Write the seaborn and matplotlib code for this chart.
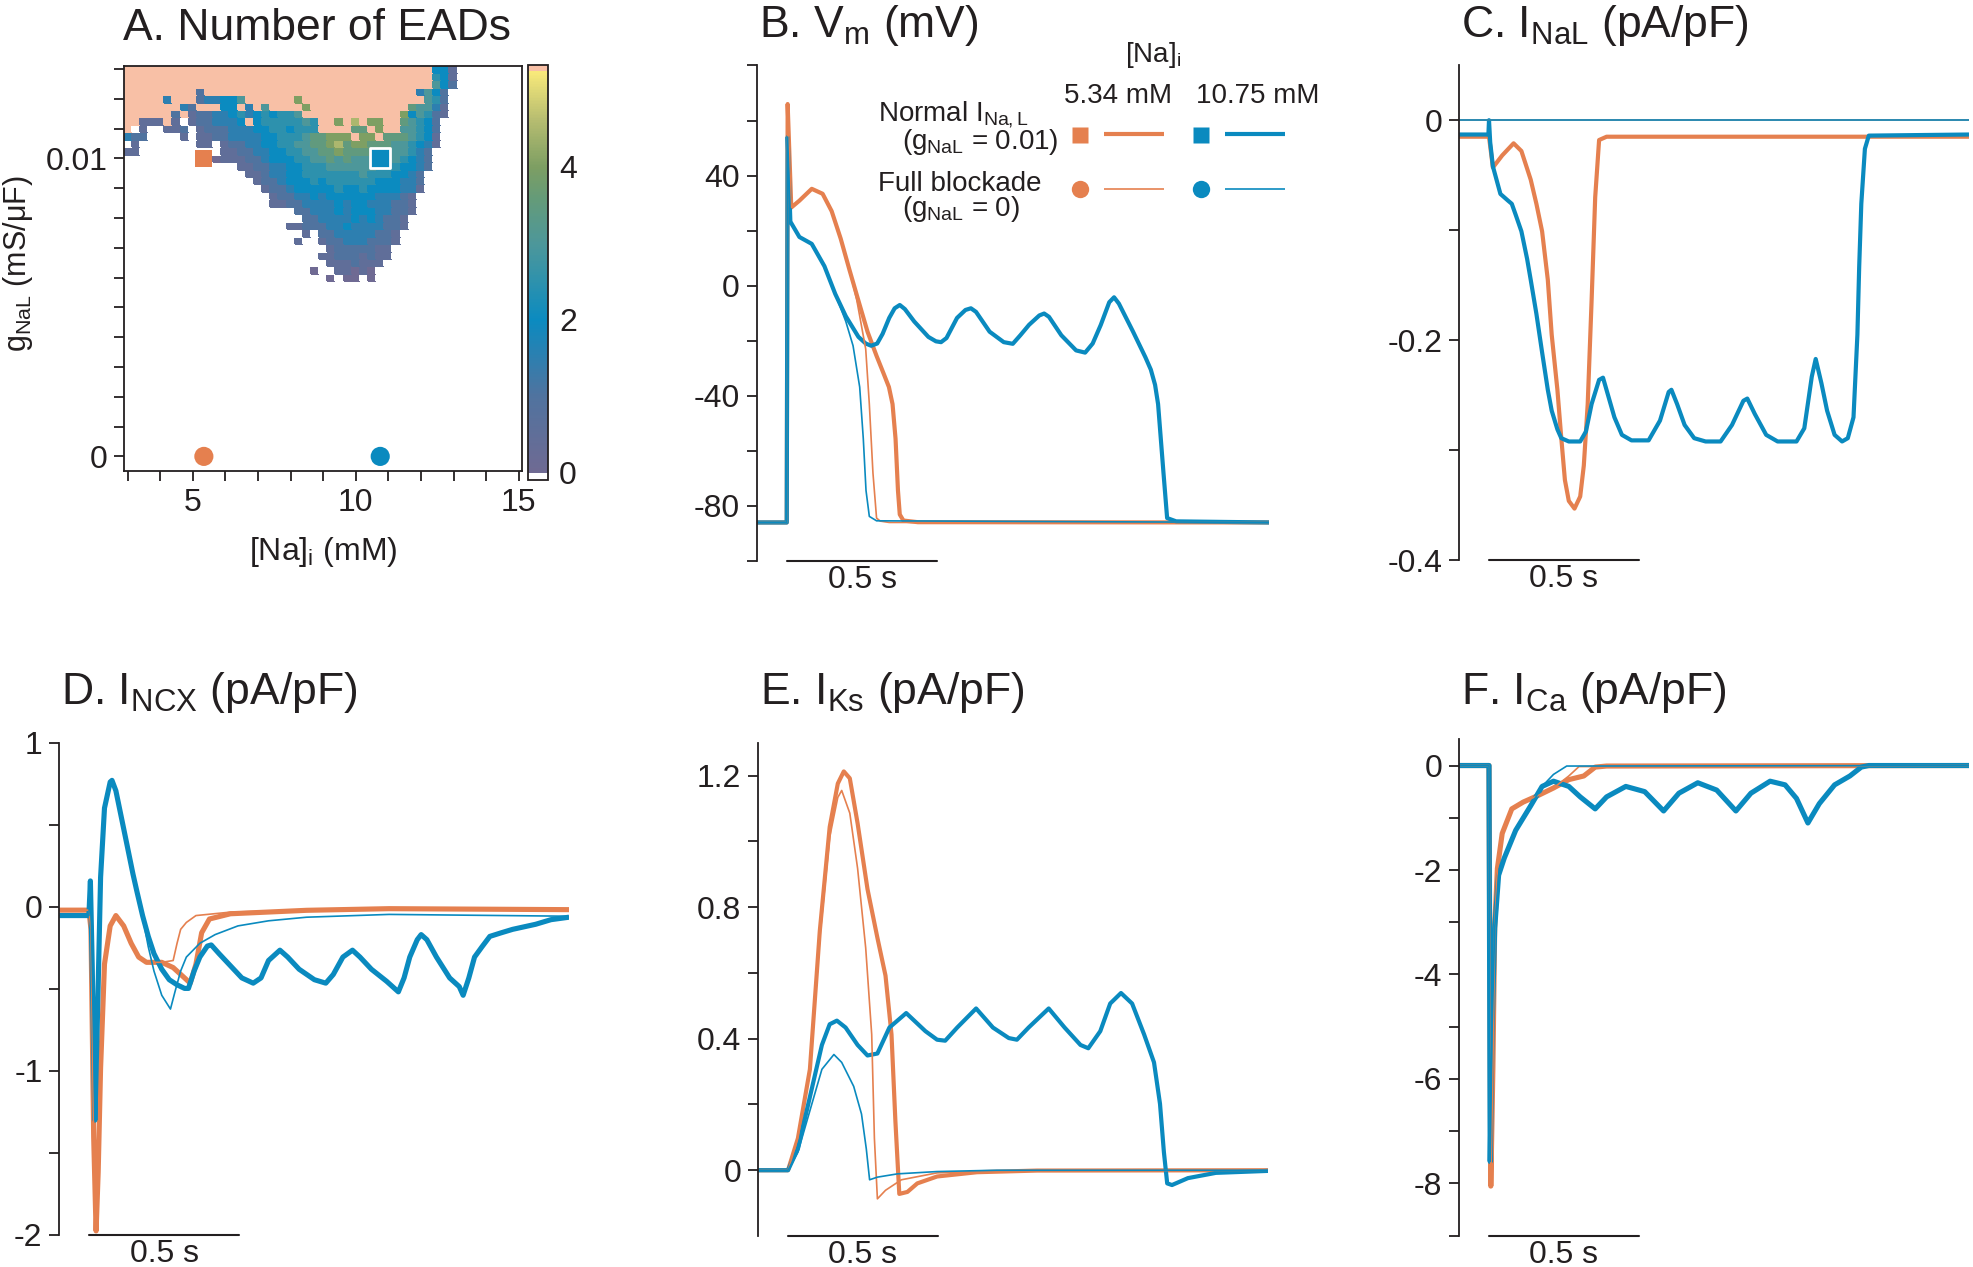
import numpy as np
import matplotlib
matplotlib.use('Agg')
import matplotlib.pyplot as plt
import seaborn as sns
from matplotlib.colors import LinearSegmentedColormap

# ---------------- colours ----------------
ORANGE = '#e5804f'   # [Na]i = 5.34 mM
BLUE = '#0a8abf'     # [Na]i = 10.75 mM
SALMON = '#f8c0a6'   # no repolarisation
INK = '#231f20'

# ---------------- panel A: number of EADs ----------------
NA_GRID = np.arange(3.0, 15.001, 0.25)         # [Na]i (mM), 49 columns
GNAL_GRID = np.arange(0.0, 0.013001, 0.00025)  # gNaL (mS/uF), 53 rows
# rows from gNaL = 0.013 downwards: (first column, codes)
# r = failed repolarisation, . = none, digit d = d/2 EADs
EAD_ROWS = [
    (0, 'r' * 38 + '441'),
    (0, 'r' * 38 + '541'),
    (0, 'r' * 38 + '642'),
    (0, 'r' * 9 + '2' + 'r' * 26 + '3642'),
    (0, 'rrrrr3rrr233446rrrrrr8' + 'r' * 15 + '652'),
    (0, 'rrrrrrr32rrr44r3r6rrrr8' + 'r' * 12 + '76631'),
    (0, 'rrrrrr2r12233453454556' + 'r' * 12 + '846521'),
    (0, 'rr111r1.1223334r45555565rr8r9r88rr76542'),
    (0, 'r.1..112.122233344554555rrrr77r8rr66542'),
    (0, '322....1.1122333344555677888r88r7776541'),
    (0, '.1.......11.122334455667789788777665431'),
    (0, '11..........11223344556677877777766532'),
    (11, '011122344455667676666665432'),
    (14, '112233445556666665554432'),
    (15, '1123344555555565554432'),
    (16, '122344454555555444332'),
    (17, '12234444454454444331'),
    (18, '122334344444433321'),
    (18, '112233334344333221'),
    (21, '223334344433221'),
    (22, '2233334343221'),
    (20, '112223343333221'),
    (22, '1.2233333221'),
    (21, '1..1223332221'),
    (25, '12222211'),
    (24, '112221211'),
    (25, '1112111'),
    (23, '0..11010'),
    (25, '0.00.0'),
]
MARK_NA = [5.34, 10.75]
MARK_GNAL = [0.01, 0.0]

# ---------------- panel B: Vm (mV) ----------------
VM_T_NORM_LO = [-0.10, 0.000, 0.003, 0.015, 0.042, 0.083, 0.119, 0.149, 0.179, 0.208, 0.238,
                0.268, 0.298, 0.321, 0.339, 0.351, 0.361, 0.369, 0.375, 0.387, 0.435, 1.60]
VM_NORM_LO = [-86, -86, 66, 28.4, 30.9, 35.2, 33.4, 27.1, 17.1, 5.8, -5.5,
              -16.7, -25.5, -31.8, -36.8, -43.0, -55.6, -74.4, -83.1, -85.3, -85.9, -86]
VM_T_NORM_HI = [-0.10, 0.000, 0.003, 0.012, 0.042, 0.083, 0.125, 0.161, 0.196, 0.238, 0.262,
                0.280, 0.300, 0.318, 0.340, 0.358, 0.375, 0.392, 0.423, 0.470, 0.495, 0.512,
                0.530, 0.565, 0.593, 0.611, 0.628, 0.673, 0.720, 0.750, 0.775, 0.804, 0.838,
                0.854, 0.870, 0.911, 0.960, 0.990, 1.015, 1.042, 1.070, 1.086, 1.102, 1.149,
                1.190, 1.208, 1.222, 1.232, 1.250, 1.262, 1.292, 1.60]
VM_NORM_HI = [-86, -86, 54, 23.3, 17.7, 15.2, 7.1, -3.0, -11.1, -18.6, -21.0,
              -21.8, -21.0, -17.5, -11.7, -8.2, -7.0, -8.5, -13.0, -18.6, -20.2, -20.5,
              -19.0, -11.7, -8.8, -8.2, -9.5, -16.7, -20.5, -21.1, -18.0, -14.2, -10.8,
              -10.1, -11.3, -18.0, -23.5, -24.3, -21.0, -14.2, -6.0, -4.2, -6.5, -16.7,
              -26.0, -30.5, -36.0, -43.0, -68.1, -84.4, -85.6, -86]
VM_T_BLOCK_LO = [-0.10, 0.000, 0.003, 0.015, 0.042, 0.083, 0.119, 0.149, 0.179, 0.208, 0.232,
                 0.262, 0.274, 0.286, 0.298, 0.310, 0.340, 1.60]
VM_BLOCK_LO = [-86, -86, 66, 28.4, 30.9, 35.2, 33.4, 27.1, 17.1, 5.8, -5.0,
               -23.0, -43.0, -68.0, -84.4, -85.5, -86, -86]
VM_T_BLOCK_HI = [-0.10, 0.000, 0.003, 0.012, 0.042, 0.083, 0.125, 0.161, 0.196, 0.220, 0.242,
                 0.254, 0.263, 0.274, 0.298, 1.60]
VM_BLOCK_HI = [-86, -86, 54, 23.3, 17.7, 15.2, 7.1, -3.0, -13.0, -21.8, -36.8,
               -55.6, -74.4, -83.8, -85.4, -86]

# ---------------- panel C: INaL (pA/pF) ----------------
NAL_T_NORM_LO = [-0.10, 0.000, 0.013, 0.044, 0.082, 0.108, 0.139, 0.158, 0.177, 0.196, 0.209, 0.228,
                 0.241, 0.253, 0.266, 0.285, 0.304, 0.316, 0.329, 0.342, 0.354, 0.367, 0.392, 1.60]
NAL_NORM_LO = [-0.015, -0.015, -0.043, -0.032, -0.021, -0.028, -0.054, -0.076, -0.101, -0.145, -0.195, -0.245,
               -0.289, -0.327, -0.346, -0.353, -0.342, -0.314, -0.258, -0.164, -0.070, -0.018, -0.015, -0.015]
NAL_T_NORM_HI = [-0.10, -0.002, 0.000, 0.004, 0.013, 0.038, 0.063, 0.076, 0.089, 0.108, 0.127, 0.139,
                 0.158, 0.177, 0.196, 0.209, 0.228, 0.241, 0.266, 0.304, 0.323, 0.342, 0.367, 0.380,
                 0.399, 0.418, 0.443, 0.475, 0.532, 0.570, 0.599, 0.608, 0.627, 0.652, 0.684, 0.722,
                 0.772, 0.810, 0.848, 0.861, 0.886, 0.924, 0.962, 1.025, 1.051, 1.076, 1.089, 1.108,
                 1.127, 1.152, 1.177, 1.196, 1.215, 1.228, 1.234, 1.241, 1.253, 1.266, 1.60]
NAL_NORM_HI = [-0.013, -0.013, 0.0, -0.020, -0.042, -0.067, -0.073, -0.076, -0.086, -0.101, -0.126, -0.145,
               -0.176, -0.211, -0.245, -0.264, -0.281, -0.289, -0.292, -0.292, -0.283, -0.258, -0.236, -0.234,
               -0.252, -0.270, -0.286, -0.291, -0.291, -0.273, -0.247, -0.245, -0.258, -0.277, -0.289, -0.292,
               -0.292, -0.277, -0.255, -0.253, -0.267, -0.286, -0.292, -0.292, -0.280, -0.233, -0.217, -0.239,
               -0.264, -0.286, -0.292, -0.289, -0.270, -0.195, -0.133, -0.076, -0.026, -0.014, -0.013]
NAL_T_BLOCK = [-0.10, 1.60]
NAL_BLOCK_LO = [0.0, 0.0]
NAL_BLOCK_HI = [0.0, 0.0]

# ---------------- panel D: INCX (pA/pF) ----------------
NCX_T_NORM_LO = [-0.10, -0.001, 0.006, 0.015, 0.023, 0.030, 0.038, 0.051, 0.070, 0.089, 0.115, 0.140,
                 0.165, 0.191, 0.242, 0.280, 0.318, 0.337, 0.356, 0.375, 0.401, 0.471, 0.725, 1.000, 1.60]
NCX_NORM_LO = [-0.02, -0.02, -0.137, -1.405, -1.975, -1.616, -0.982, -0.349, -0.116, -0.053, -0.116, -0.222,
               -0.306, -0.338, -0.338, -0.370, -0.433, -0.465, -0.349, -0.158, -0.074, -0.042, -0.021, -0.011, -0.017]
NCX_T_BLOCK_LO = [-0.10, -0.001, 0.006, 0.015, 0.023, 0.030, 0.038, 0.051, 0.070, 0.089, 0.115, 0.140,
                  0.165, 0.191, 0.242, 0.280, 0.293, 0.305, 0.324, 0.356, 0.471, 0.725, 1.60]
NCX_BLOCK_LO = [-0.02, -0.02, -0.137, -1.405, -1.975, -1.616, -0.982, -0.349, -0.116, -0.053, -0.116, -0.222,
                -0.306, -0.338, -0.338, -0.327, -0.222, -0.137, -0.095, -0.053, -0.032, -0.020, -0.017]
NCX_T_NORM_HI = [-0.10, -0.001, 0.004, 0.010, 0.019, 0.029, 0.038, 0.051, 0.070, 0.076, 0.089, 0.108,
                 0.127, 0.146, 0.159, 0.178, 0.197, 0.216, 0.242, 0.267, 0.293, 0.318, 0.331, 0.350,
                 0.369, 0.394, 0.407, 0.433, 0.471, 0.509, 0.547, 0.573, 0.598, 0.636, 0.662, 0.700,
                 0.751, 0.789, 0.814, 0.846, 0.878, 0.903, 0.941, 0.992, 1.031, 1.050, 1.069, 1.094,
                 1.107, 1.126, 1.158, 1.202, 1.234, 1.247, 1.266, 1.285, 1.310, 1.336, 1.374, 1.412,
                 1.489, 1.540, 1.60]
NCX_NORM_HI = [-0.053, -0.053, 0.158, -0.349, -1.30, -0.56, 0.18, 0.602, 0.761, 0.771, 0.708, 0.539,
               0.370, 0.200, 0.095, -0.053, -0.180, -0.285, -0.380, -0.444, -0.475, -0.497, -0.497, -0.391,
               -0.306, -0.239, -0.232, -0.285, -0.359, -0.433, -0.465, -0.433, -0.327, -0.264, -0.306, -0.380,
               -0.444, -0.465, -0.412, -0.306, -0.264, -0.306, -0.380, -0.454, -0.518, -0.433, -0.306, -0.200,
               -0.169, -0.200, -0.306, -0.433, -0.486, -0.539, -0.433, -0.306, -0.243, -0.180, -0.158, -0.137,
               -0.106, -0.078, -0.063]
NCX_T_BLOCK_HI = [-0.10, -0.001, 0.004, 0.010, 0.019, 0.029, 0.038, 0.051, 0.070, 0.076, 0.089, 0.108,
                  0.127, 0.146, 0.159, 0.178, 0.197, 0.216, 0.242, 0.271, 0.286, 0.305, 0.324, 0.369,
                  0.420, 0.496, 0.598, 0.725, 1.000, 1.60]
NCX_BLOCK_HI = [-0.053, -0.053, 0.158, -0.349, -1.30, -0.56, 0.18, 0.602, 0.761, 0.771, 0.708, 0.539,
                0.370, 0.200, 0.095, -0.060, -0.243, -0.391, -0.539, -0.623, -0.518, -0.391, -0.306, -0.222,
                -0.169, -0.116, -0.085, -0.063, -0.046, -0.057]

# ---------------- panel E: IKs (pA/pF) ----------------
KS_T_NORM_LO = [-0.10, 0.000, 0.033, 0.073, 0.106, 0.139, 0.166, 0.186, 0.206, 0.232, 0.265,
                0.298, 0.325, 0.345, 0.358, 0.371, 0.398, 0.431, 0.497, 0.630, 0.830, 1.60]
KS_NORM_LO = [0, 0, 0.097, 0.307, 0.728, 1.044, 1.176, 1.213, 1.192, 1.055, 0.855,
              0.707, 0.592, 0.413, 0.149, -0.072, -0.066, -0.040, -0.019, -0.006, -0.001, 0]
KS_T_BLOCK_LO = [-0.10, 0.000, 0.033, 0.073, 0.106, 0.139, 0.166, 0.179, 0.206, 0.232,
                 0.259, 0.279, 0.288, 0.298, 0.325, 0.378, 0.497, 0.696, 1.60]
KS_BLOCK_LO = [0, 0, 0.097, 0.307, 0.707, 1.013, 1.134, 1.155, 1.086, 0.918,
               0.676, 0.413, 0.097, -0.087, -0.061, -0.029, -0.008, -0.002, 0]
KS_T_NORM_HI = [-0.10, 0.000, 0.033, 0.073, 0.113, 0.139, 0.163, 0.192, 0.232, 0.265, 0.298,
                0.338, 0.394, 0.458, 0.497, 0.524, 0.564, 0.627, 0.683, 0.736, 0.763, 0.802,
                0.869, 0.922, 0.975, 1.001, 1.041, 1.074, 1.110, 1.147, 1.187, 1.220, 1.240,
                1.253, 1.264, 1.280, 1.333, 1.426, 1.60]
KS_NORM_HI = [0, 0, 0.065, 0.223, 0.381, 0.444, 0.455, 0.434, 0.381, 0.349, 0.355,
              0.434, 0.478, 0.423, 0.397, 0.394, 0.434, 0.492, 0.434, 0.402, 0.397, 0.434,
              0.492, 0.434, 0.381, 0.371, 0.423, 0.507, 0.539, 0.507, 0.413, 0.328, 0.202,
              0.055, -0.040, -0.045, -0.024, -0.008, -0.002]
KS_T_BLOCK_HI = [-0.10, 0.000, 0.033, 0.073, 0.113, 0.153, 0.179, 0.219, 0.245, 0.261,
                 0.272, 0.298, 0.365, 0.497, 0.696, 1.60]
KS_BLOCK_HI = [0, 0, 0.055, 0.181, 0.307, 0.352, 0.328, 0.255, 0.171, 0.065,
               -0.029, -0.021, -0.011, -0.004, 0, 0]

# ---------------- panel F: ICa (pA/pF) ----------------
CA_T_NORM_LO = [-0.10, 0.000, 0.006, 0.013, 0.019, 0.028, 0.044, 0.076, 0.114, 0.165, 0.215,
                0.266, 0.316, 0.354, 0.392, 1.60]
CA_NORM_LO = [0, 0, -8.05, -5.78, -3.10, -1.97, -1.30, -0.83, -0.70, -0.57, -0.43,
              -0.27, -0.20, -0.03, -0.01, 0]
CA_T_BLOCK_LO = [-0.10, 0.000, 0.006, 0.013, 0.019, 0.028, 0.044, 0.076, 0.114, 0.165, 0.215,
                 0.266, 0.300, 1.60]
CA_BLOCK_LO = [0, 0, -8.05, -5.78, -3.10, -1.97, -1.30, -0.83, -0.70, -0.57, -0.43,
               -0.20, -0.02, 0]
CA_T_NORM_HI = [-0.10, 0.000, 0.004, 0.010, 0.019, 0.032, 0.051, 0.089, 0.139, 0.177, 0.215,
                0.266, 0.304, 0.354, 0.392, 0.456, 0.519, 0.582, 0.633, 0.696, 0.759, 0.823,
                0.873, 0.937, 0.987, 1.025, 1.063, 1.101, 1.152, 1.203, 1.241, 1.266, 1.60]
CA_NORM_HI = [0, 0, -7.58, -5.11, -3.11, -2.10, -1.77, -1.24, -0.77, -0.40, -0.30,
              -0.40, -0.60, -0.83, -0.60, -0.40, -0.50, -0.87, -0.53, -0.33, -0.47, -0.87,
              -0.53, -0.30, -0.37, -0.63, -1.10, -0.73, -0.37, -0.20, -0.03, 0, 0]
CA_T_BLOCK_HI = [-0.10, 0.000, 0.004, 0.010, 0.019, 0.032, 0.051, 0.089, 0.139, 0.177, 0.215,
                 0.259, 1.60]
CA_BLOCK_HI = [0, 0, -7.58, -5.11, -3.11, -2.10, -1.77, -1.24, -0.77, -0.40, -0.17,
               -0.01, 0]

# ---------------- style ----------------
sns.set_theme(style='ticks')
TICK_FS = 23
TITLE_FS = 32
plt.rcParams['font.family'] = ['Liberation Sans', 'DejaVu Sans']
plt.rcParams.update({
    'font.size': TICK_FS,
    'axes.linewidth': 1.3,
    'axes.edgecolor': INK,
    'xtick.color': INK, 'ytick.color': INK,
    'xtick.major.size': 7, 'ytick.major.size': 7,
    'xtick.major.width': 1.3, 'ytick.major.width': 1.3,
    'xtick.major.pad': 5, 'ytick.major.pad': 5,
    'xtick.labelsize': TICK_FS, 'ytick.labelsize': TICK_FS,
    'text.color': INK,
    'axes.unicode_minus': False,
    'mathtext.fontset': 'custom',
    'mathtext.rm': 'Liberation Sans',
    'mathtext.it': 'Liberation Sans:italic',
    'mathtext.bf': 'Liberation Sans:bold',
})

W, H = 1974, 1267
fig = plt.figure(figsize=(W / 100, H / 100), dpi=100)
fig.patch.set_facecolor('white')


def px_axes(left, top, right, bottom):
    return fig.add_axes([left / W, 1 - bottom / H, (right - left) / W, (bottom - top) / H])


def fig_text(x, y, s, **kw):
    fig.text(x / W, 1 - y / H, s, **kw)


# ---------------- panel A ----------------
Z = np.full((len(GNAL_GRID), len(NA_GRID)), np.nan)
for i, (start, codes) in enumerate(EAD_ROWS):
    j = len(GNAL_GRID) - 1 - i
    for n, c in enumerate(codes):
        k = start + n
        if k >= len(NA_GRID):
            break
        if c == 'r':
            Z[j, k] = 99.0
        elif c != '.':
            Z[j, k] = int(c) / 2.0

cmap = LinearSegmentedColormap.from_list('ead', [
    (0.0, '#6f6a93'), (0.19, '#50739f'), (0.381, '#0b8bc0'), (0.50, '#3693a8'),
    (0.571, '#4d979a'), (0.686, '#659b78'), (0.762, '#7d9e63'), (0.876, '#b4bb70'),
    (1.0, '#f8e97a')])
cmap.set_over(SALMON)
cmap.set_under('white')
cmap.set_bad('white')

x_edges = np.append(NA_GRID - 0.125, NA_GRID[-1] + 0.125)
y_edges = np.append(GNAL_GRID - 0.000125, GNAL_GRID[-1] + 0.000125)

axA = px_axes(124, 66, 521.7, 471.3)
mesh = axA.pcolormesh(x_edges, y_edges, np.ma.masked_invalid(Z), cmap=cmap,
                      vmin=0, vmax=5.25, shading='flat', edgecolors='face', linewidth=0.2)
sns.scatterplot(x=MARK_NA[:1], y=MARK_GNAL[:1], marker='s', s=150, color=ORANGE,
                edgecolor='none', ax=axA, zorder=5)
sns.scatterplot(x=MARK_NA[1:], y=MARK_GNAL[:1], marker='s', s=200, color=BLUE,
                edgecolor='white', linewidth=2, ax=axA, zorder=5)
sns.scatterplot(x=MARK_NA[:1], y=MARK_GNAL[1:], marker='o', s=190, color=ORANGE,
                edgecolor='none', ax=axA, zorder=5, clip_on=False)
sns.scatterplot(x=MARK_NA[1:], y=MARK_GNAL[1:], marker='o', s=190, color=BLUE,
                edgecolor='none', ax=axA, zorder=5, clip_on=False)
axA.set_xlim(2.89, 15.09)
axA.set_ylim(-0.0005, 0.0131)
axA.set_xticks(range(3, 16))
axA.set_xticklabels(['5' if v == 5 else '10' if v == 10 else '15' if v == 15 else '' for v in range(3, 16)])
yt = [round(0.001 * v, 3) for v in range(14)]
axA.set_yticks(yt)
axA.set_yticklabels(['0' if v == 0 else '0.01' if v == 10 else '' for v in range(14)])
axA.set_xlabel('')
axA.set_ylabel('')
for sp in axA.spines.values():
    sp.set_color(INK)
    sp.set_linewidth(1.3)

cax = px_axes(528, 65, 548, 480)
cb = fig.colorbar(mesh, cax=cax, extend='both', extendfrac=(0.018, 0.016), extendrect=True)
cb.set_ticks([0, 1, 2, 3, 4, 5])
cb.ax.set_yticklabels(['0', '', '2', '', '4', ''])
cb.ax.tick_params(direction='in', length=6, width=1.3, labelsize=TICK_FS, pad=8)
cb.outline.set_linewidth(1.3)
cb.outline.set_edgecolor(INK)

fig_text(123, 40, 'A. Number of EADs', fontsize=TITLE_FS, ha='left', va='baseline')
fig_text(322.8, 560, r'[Na]$_\mathregular{i}$ (mM)', fontsize=TICK_FS, ha='center', va='baseline')
fig_text(18, 264, r'g$_\mathregular{NaL}$ (mS/$\mathregular{\mu}$F)', fontsize=22,
         ha='center', va='center', rotation=90)


# ---------------- trace panels ----------------
def trace_panel(rect, ylim, yticks, ylabels, traces, title, title_y):
    ax = px_axes(*rect)
    for t, v, color, lw in traces:
        n = min(len(t), len(v))
        sns.lineplot(x=t[:n], y=v[:n], color=color, linewidth=lw, estimator=None,
                     sort=False, ax=ax, solid_capstyle='butt')
    ax.set_xlim(-0.1, 1.6)
    ax.set_ylim(*ylim)
    ax.set_yticks(yticks)
    ax.set_yticklabels(ylabels)
    ax.set_xticks([])
    ax.set_xlabel('')
    ax.set_ylabel('')
    sns.despine(ax=ax, bottom=True)
    ax.spines['left'].set_color(INK)
    ax.plot([0, 0.5], [ylim[0], ylim[0]], color=INK, lw=1.5, clip_on=False)
    ax.annotate('0.5 s', xy=(0.25, ylim[0]), xytext=(0, -3), textcoords='offset points',
                ha='center', va='top', fontsize=TICK_FS)
    fig_text(rect[0] + 2, title_y, title, fontsize=TITLE_FS, ha='left', va='baseline')
    return ax


THICK, THIN = 3.0, 1.2
NOISY = 3.7

trace_panel((756.6, 65.5, 1269, 561), (-100, 80), list(range(-100, 81, 20)),
            ['', '-80', '', '-40', '', '0', '', '40', '', ''],
            [(VM_T_NORM_LO, VM_NORM_LO, ORANGE, THICK), (VM_T_NORM_HI, VM_NORM_HI, BLUE, THICK),
             (VM_T_BLOCK_LO, VM_BLOCK_LO, ORANGE, THIN), (VM_T_BLOCK_HI, VM_BLOCK_HI, BLUE, THIN)],
            r'B. V$_\mathregular{m}$ (mV)', 37)

trace_panel((1459, 65.2, 1969, 560.3), (-0.4, 0.05), [-0.4, -0.3, -0.2, -0.1, 0],
            ['-0.4', '', '-0.2', '', '0'],
            [(NAL_T_NORM_LO, NAL_NORM_LO, ORANGE, THICK), (NAL_T_NORM_HI, NAL_NORM_HI, BLUE, THICK),
             (NAL_T_BLOCK, NAL_BLOCK_LO, ORANGE, THIN), (NAL_T_BLOCK, NAL_BLOCK_HI, BLUE, THIN)],
            r'C. I$_\mathregular{NaL}$ (pA/pF)', 37)

trace_panel((59.2, 742.8, 569, 1235), (-2, 1), [-2, -1.5, -1, -0.5, 0, 0.5, 1],
            ['-2', '', '-1', '', '0', '', '1'],
            [(NCX_T_NORM_LO, NCX_NORM_LO, ORANGE, NOISY), (NCX_T_NORM_HI, NCX_NORM_HI, BLUE, NOISY),
             (NCX_T_BLOCK_LO, NCX_BLOCK_LO, ORANGE, THIN), (NCX_T_BLOCK_HI, NCX_BLOCK_HI, BLUE, THIN)],
            r'D. I$_\mathregular{NCX}$ (pA/pF)', 704)

trace_panel((758, 742.8, 1268, 1236), (-0.2, 1.3), [0, 0.2, 0.4, 0.6, 0.8, 1.0, 1.2],
            ['0', '', '0.4', '', '0.8', '', '1.2'],
            [(KS_T_NORM_LO, KS_NORM_LO, ORANGE, THICK), (KS_T_NORM_HI, KS_NORM_HI, BLUE, THICK),
             (KS_T_BLOCK_LO, KS_BLOCK_LO, ORANGE, THIN), (KS_T_BLOCK_HI, KS_BLOCK_HI, BLUE, THIN)],
            r'E. I$_\mathregular{Ks}$ (pA/pF)', 704)

trace_panel((1459, 739.4, 1969, 1235.7), (-9, 0.5), list(range(-9, 1)),
            ['', '-8', '', '-6', '', '-4', '', '-2', '', '0'],
            [(CA_T_NORM_LO, CA_NORM_LO, ORANGE, NOISY), (CA_T_NORM_HI, CA_NORM_HI, BLUE, NOISY),
             (CA_T_BLOCK_LO, CA_BLOCK_LO, ORANGE, THIN), (CA_T_BLOCK_HI, CA_BLOCK_HI, BLUE, THIN)],
            r'F. I$_\mathregular{Ca}$ (pA/pF)', 704)

# ---------------- legend inside panel B ----------------
leg = fig.add_axes([0, 0, 1, 1])
leg.set_xlim(0, W)
leg.set_ylim(H, 0)
leg.axis('off')
leg.patch.set_alpha(0)
LEG_FS = 20
leg.text(1153, 62, r'[Na]$_\mathregular{i}$', fontsize=LEG_FS, ha='center', va='baseline')
leg.text(1118, 103, '5.34 mM', fontsize=LEG_FS, ha='center', va='baseline')
leg.text(1258, 103, '10.75 mM', fontsize=LEG_FS, ha='center', va='baseline')
leg.text(878, 121, r'Normal I$_\mathregular{Na,L}$', fontsize=LEG_FS, ha='left', va='baseline')
leg.text(902, 149, r'(g$_\mathregular{NaL}$ = 0.01)', fontsize=LEG_FS, ha='left', va='baseline')
leg.text(878, 191, 'Full blockade', fontsize=LEG_FS, ha='left', va='baseline')
leg.text(902, 216, r'(g$_\mathregular{NaL}$ = 0)', fontsize=LEG_FS, ha='left', va='baseline')
for cx, color in [(1080, ORANGE), (1200.5, BLUE)]:
    leg.plot([cx], [135], marker='s', ms=12, color=color, mec='none')
    leg.plot([cx + 24, cx + 84], [134.3, 134.3], color=color, lw=THICK, solid_capstyle='butt')
    leg.plot([cx], [189.3], marker='o', ms=12.5, color=color, mec='none')
    leg.plot([cx + 24, cx + 84], [189.3, 189.3], color=color, lw=THIN, solid_capstyle='butt')

fig.savefig('out.png', dpi=100, facecolor='white')
